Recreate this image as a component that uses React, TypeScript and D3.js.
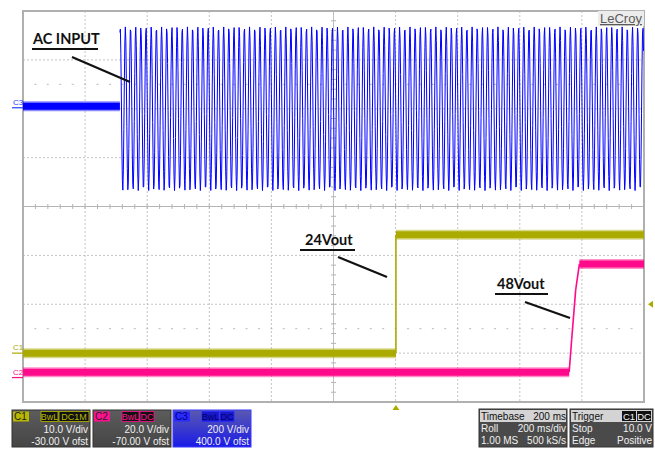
import React from "react";
import * as d3 from "d3";

// ---- data ----
const timeSpanMs = [0, 2000]; // 10 div x 200 ms/div (roll)
const xDivisions = 10;
const yDivisions = 8;

// channel settings [V/div, offset V]
const c1Setting = { vdiv: 10, offset: -30 };
const c2Setting = { vdiv: 20, offset: -70 };
const c3Setting = { vdiv: 200, offset: 400 };

// C1 (24Vout) samples: [ms, V]
const c1Times = [0, 1201, 1201, 2000];
const c1Volts = [0, 0, 24.2, 24.2];
// C2 (48Vout) samples: [ms, V]
const c2Times = [0, 1759, 1767, 1780, 1792, 2000];
const c2Volts = [2.2, 2.2, 15.4, 35.9, 46.5, 46.5];
// C3 (AC input) before mains applied
const c3FlatTimes = [0, 312];
const c3FlatVolts = [10, 10];
// C3 AC signal parameters
const acStartMs = 312;
const acEndMs = 2000;
const acPeakVolts = 335;
const acFreqHz = 60;
const acDisplayStepMs = 1.6; // scope display decimation

const triggerTimeMs = 1201;
const triggerLevelV = 10;

const annotations = [
  { text: "AC INPUT", tx: 33, ty: 44, ux0: 32, ux1: 98, uy: 49, lx0: 72, ly0: 57, lx1: 130, ly1: 82 },
  { text: "24Vout", tx: 305, ty: 245, ux0: 300, ux1: 355, uy: 250, lx0: 338, ly0: 257, lx1: 387, ly1: 277 },
  { text: "48Vout", tx: 497, ty: 289, ux0: 495, ux1: 548, uy: 294, lx0: 525, ly0: 302, lx1: 570, ly1: 318 },
];

const C1 = "#aaaa00";
const C2 = "#ff0a8a";
const C3 = "#0000ff";

const L = 23, R = 644, T = 11, B = 402;

export default function App() {
  const x = d3.scaleLinear().domain(timeSpanMs).range([L, R]);
  const yDiv = d3.scaleLinear().domain([-yDivisions / 2, yDivisions / 2]).range([B, T]);
  const chY = (s: { vdiv: number; offset: number }) => (v: number) => yDiv((v + s.offset) / s.vdiv);
  const y1 = chY(c1Setting), y2 = chY(c2Setting), y3 = chY(c3Setting);

  const xGrid = d3.range(0, xDivisions + 1).map((i) => L + ((R - L) * i) / xDivisions);
  const yGrid = d3.range(-yDivisions / 2, yDivisions / 2 + 1).map((d) => yDiv(d));
  const xc = (L + R) / 2, yc = yDiv(0);
  const xMinor = d3.range(0, xDivisions * 5 + 1).map((i) => L + ((R - L) * i) / (xDivisions * 5));
  const yMinor = d3.range(0, yDivisions * 5 + 1).map((i) => T + ((B - T) * i) / (yDivisions * 5));

  const segs = (ts: number[], vs: number[], yf: (v: number) => number) =>
    ts.slice(1).map((t, i) => ({
      x0: x(ts[i]), x1: x(t), y0: yf(vs[i]), y1: yf(vs[i + 1]), flat: vs[i] === vs[i + 1],
    }));
  const c1Segs = segs(c1Times, c1Volts, y1);
  const c2Segs = segs(c2Times, c2Volts, y2);
  const c3Segs = segs(c3FlatTimes, c3FlatVolts, y3);

  const acPts: [number, number][] = d3
    .range(acStartMs, acEndMs, acDisplayStepMs)
    .map((t) => [x(t), y3(acPeakVolts * Math.sin(2 * Math.PI * acFreqHz * (t - acStartMs) / 1000 + 1.2))]);
  const acPath = d3.line()(acPts) || "";

  const font = "'Liberation Sans', Arial, sans-serif";

  const renderSegs = (s: any[], col: string, key: string) =>
    s.map((g, i) =>
      g.flat ? (
        <g key={key + i}>
          <line x1={g.x0} x2={g.x1} y1={g.y0} y2={g.y1} stroke={col} strokeOpacity={0.45} strokeWidth={10} />
          <line x1={g.x0} x2={g.x1} y1={g.y0} y2={g.y1} stroke={col} strokeWidth={7} />
        </g>
      ) : (
        <line key={key + i} x1={g.x0} x2={g.x1} y1={g.y0} y2={g.y1} stroke={col} strokeWidth={1.6} />
      )
    );

  const chMarker = (label: string, yv: number, col: string) => (
    <g>
      <text x={13} y={yv - 3} fontSize={8} fill={col} fontFamily={font}>{label}</text>
      <line x1={12} x2={23} y1={yv} y2={yv} stroke={col} strokeWidth={1.2} />
    </g>
  );

  const badge = (bx: number, w: number, txt: string, bg: string, fg: string, bd: string) => (
    <g>
      <rect x={bx} y={411.5} width={w} height={10} fill={bg} stroke={bd} strokeWidth={0.8} />
      <text x={bx + w / 2} y={420} fontSize={9} fill={fg} textAnchor="middle" fontFamily={font}>{txt}</text>
    </g>
  );

  const chPanel = (px: number, ch: string, col: string, b1: string, vd: string, of: string, blue = false) => (
    <g>
      <defs>
        <linearGradient id={"g" + ch} x1="0" x2="0" y1="0" y2="1">
          <stop offset="0" stopColor={blue ? "#5a5ab0" : "#5c5c5c"} />
          <stop offset="1" stopColor={blue ? "#1a1ae8" : "#454545"} />
        </linearGradient>
      </defs>
      <rect x={px} y={410} width={78} height={37} fill={`url(#g${ch})`} stroke={blue ? "#3a3aff" : "#333"} strokeWidth={1} />
      <rect x={px + 1} y={411.5} width={16} height={10} fill={col} />
      <text x={px + 2} y={420} fontSize={10} fill={blue ? "#00007a" : "#222"} fontFamily={font}>{ch}</text>
      {badge(px + 29, 17, "BwL", blue ? "#1818c8" : "#111", blue ? "#000070" : col, col)}
      {badge(px + 47, b1 === "DC1M" ? 30 : 14, b1, blue ? "#1818c8" : "#111", blue ? "#000070" : col, col)}
      <text x={px + 76} y={433} fontSize={10} fill="#f0f0f0" textAnchor="end" fontFamily={font}>{vd}</text>
      <text x={px + 76} y={444.5} fontSize={10} fill="#f0f0f0" textAnchor="end" fontFamily={font}>{of}</text>
    </g>
  );

  const infoPanel = (px: number, w: number, head: string, headR: React.ReactNode, rows: [string, string][]) => (
    <g>
      <rect x={px} y={409} width={w} height={38} fill="#4a4a4a" stroke="#333" />
      <rect x={px + 1} y={410} width={w - 2} height={12} fill="#d4d4d4" />
      <text x={px + 2} y={419.5} fontSize={10} fill="#111" fontFamily={font}>{head}</text>
      {headR}
      {rows.map((r, i) => (
        <g key={i}>
          <text x={px + 2} y={432 + i * 12} fontSize={10} fill="#f0f0f0" fontFamily={font}>{r[0]}</text>
          <text x={px + w - 1} y={432 + i * 12} fontSize={10} fill="#f0f0f0" textAnchor="end" fontFamily={font}>{r[1]}</text>
        </g>
      ))}
    </g>
  );

  const tx = x(triggerTimeMs), ty = y1(triggerLevelV);

  return (
    <svg width={655} height={449} style={{ position: "absolute", left: 0, top: 0, background: "#fff" }}>
      <rect x={0} y={0} width={655} height={449} fill="#fff" />
      {xGrid.slice(1, -1).map((gx, i) => (
        <line key={"vx" + i} x1={gx} x2={gx} y1={T} y2={B} stroke="#c4c4c4" strokeDasharray="2,2" />
      ))}
      {yGrid.slice(1, -1).map((gy, i) => (
        <line key={"hy" + i} x1={L} x2={R} y1={gy} y2={gy} stroke="#c4c4c4" strokeDasharray="2,2" />
      ))}
      <line x1={L} x2={R} y1={yc} y2={yc} stroke="#b4b4b4" strokeWidth={1.2} />
      <line x1={xc} x2={xc} y1={T} y2={B} stroke="#c0c0c0" strokeWidth={1} />
      {xMinor.map((mx, i) => (
        <g key={"mx" + i}>
          <line x1={mx} x2={mx} y1={yc - 2.5} y2={yc + 2.5} stroke="#b4b4b4" />
          <line x1={mx - 1} x2={mx + 1} y1={yDiv(2.5)} y2={yDiv(2.5)} stroke="#b8b8b8" />
          <line x1={mx - 1} x2={mx + 1} y1={yDiv(-2.5)} y2={yDiv(-2.5)} stroke="#b8b8b8" />
        </g>
      ))}
      {yMinor.map((my, i) => (
        <line key={"my" + i} x1={xc - 2.5} x2={xc + 2.5} y1={my} y2={my} stroke="#b4b4b4" />
      ))}
      <rect x={L} y={T} width={R - L} height={B - T} fill="none" stroke="#b0b0b0" strokeWidth={2} />

      <rect x={598} y={11} width={46} height={15} fill="#ececec" />
      <text x={600} y={23} fontSize={13} fill="#5a5a5a" fontFamily={font} textDecoration="underline">LeCroy</text>

      <path d={acPath} fill="none" stroke={C3} strokeWidth={1} />
      {renderSegs(c3Segs, C3, "c3")}
      {renderSegs(c1Segs, C1, "c1")}
      {renderSegs(c2Segs, C2, "c2")}

      {chMarker("C3", y3(0) - 1, "#2040ff")}
      {chMarker("C1", y1(0), C1)}
      {chMarker("C2", y2(0), C2)}

      <path d={`M${tx - 3.5},${B + 8} L${tx + 3.5},${B + 8} L${tx},${B + 3} Z`} fill={C1} />
      <path d={`M${R + 9},${ty - 3.5} L${R + 9},${ty + 3.5} L${R + 4},${ty} Z`} fill={C1} />

      {annotations.map((a, i) => (
        <g key={"an" + i}>
          <text x={a.tx} y={a.ty} fontSize={14.5} fontWeight={700} fontFamily="Lato, 'Open Sans', sans-serif" fill="#111">{a.text}</text>
          <line x1={a.ux0} x2={a.ux1} y1={a.uy} y2={a.uy} stroke="#111" strokeWidth={2} />
          <line x1={a.lx0} x2={a.lx1} y1={a.ly0} y2={a.ly1} stroke="#111" strokeWidth={2.2} />
        </g>
      ))}

      {chPanel(12, "C1", "#b8b800", "DC1M", "10.0 V/div", "-30.00 V ofst")}
      {chPanel(93, "C2", "#ff1090", "DC", "20.0 V/div", "-70.00 V ofst")}
      {chPanel(173, "C3", "#2a2aff", "DC", "200 V/div", "400.0 V ofst", true)}
      {infoPanel(479, 88, "Timebase", <text x={566} y={419.5} fontSize={10} fill="#111" textAnchor="end" fontFamily={font}>200 ms</text>, [["Roll", "200 ms/div"], ["1.00 MS", "500 kS/s"]])}
      {infoPanel(570, 83, "Trigger",
        <g>
          <rect x={622} y={411} width={14} height={10} fill="#111" />
          <text x={629} y={419.5} fontSize={9.5} fill="#f4f4f4" textAnchor="middle" fontFamily={font}>C1</text>
          <rect x={637} y={411} width={14} height={10} fill="#111" />
          <text x={644} y={419.5} fontSize={9.5} fill="#f4f4f4" textAnchor="middle" fontFamily={font}>DC</text>
        </g>,
        [["Stop", "10.0 V"], ["Edge", "Positive"]])}
    </svg>
  );
}
